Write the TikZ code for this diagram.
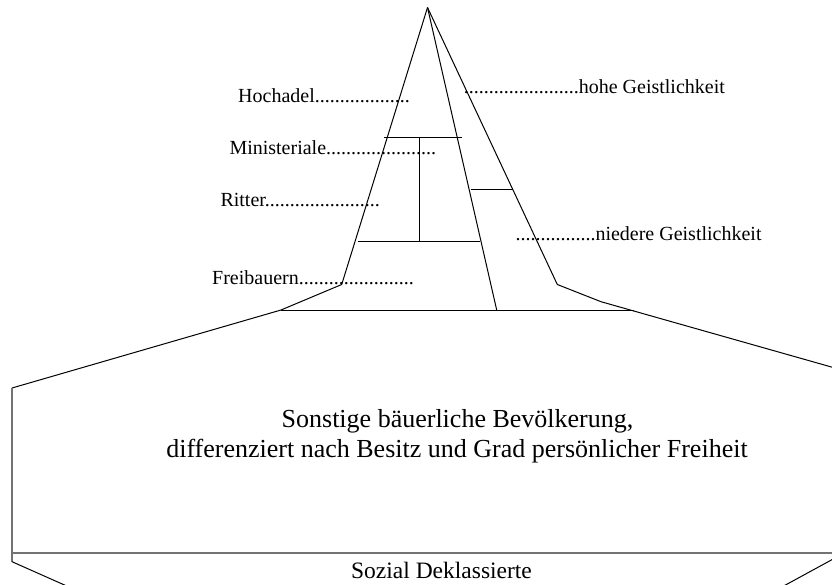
\documentclass[tikz,border=0pt]{standalone}
\usepackage{fontspec}
\setmainfont{Liberation Serif}
\usetikzlibrary{calc, positioning}

\begin{document}
\begin{tikzpicture}[
                x=1pt, y=-1pt,
                line width=1pt,
                every node/.style={inner sep=0pt, anchor=base west, font=\fontsize{20}{24}\selectfont},
                grey/.style={draw=black!55, line width=1.8pt}
            ]
                \useasboundingbox (0, 0) rectangle (832, 584);
                \clip (0, 0) rectangle (832, 584);
                \coordinate (top) at (427.5, 7.5);
                \coordinate (lk) at (341.7, 284.5);
                \coordinate (rk) at (557.3, 284.5);
                \coordinate (lb) at (281, 310);
                \coordinate (rb) at (634, 310);
                \coordinate (mb) at (496.7, 310);
                \coordinate (lo) at (12, 388);
                \coordinate (lu) at (12, 561.7);
                % pyramid
                \draw (top) -- (lk) -- (lb) -- (lo);
                \draw (top) -- (rk) -- (601, 301.7) -- (902, 387);
                \draw (top) -- (mb);
                \draw (lb) -- (rb);
                \draw (384, 137.3) -- (461.7, 137.3);
                \draw (419, 137.3) -- (419, 241.3);
                \draw (357.7, 241.3) -- (480, 241.3);
                \draw (470.7, 189) -- (513.3, 189);
                % base
                \draw[grey] (lo) -- (lu);
                \draw[grey] (12, 552.7) -- (846, 552.7);
                \draw (lu) -- (78, 591);
                \draw (846, 552) -- (780, 588);
                % labels
                \node (hoch) at (237.7, 102.7) {Hochadel...................};
                \node (mini) at (229, 154) {Ministeriale......................};
                \node (ritt) at (220, 206.7) {Ritter.......................};
                \node (frei) at (211.7, 284) {Freibauern.......................};
                \node (hohe) at (463.3, 93.3) {.......................hohe Geistlichkeit};
                \node (nied) at (515, 240) {................niedere Geistlichkeit};
                \node[anchor=base, font=\fontsize{26}{30}\selectfont] (sonst) at (457.5, 427) {Sonstige bäuerliche Bevölkerung,};
                \node[anchor=base, font=\fontsize{26}{30}\selectfont] (diff) at (457, 457) {differenziert nach Besitz und Grad persönlicher Freiheit};
                \node[anchor=base, font=\fontsize{23.5}{28}\selectfont] (dekl) at (441.5, 578) {Sozial Deklassierte};
            \end{tikzpicture}
\end{document}
